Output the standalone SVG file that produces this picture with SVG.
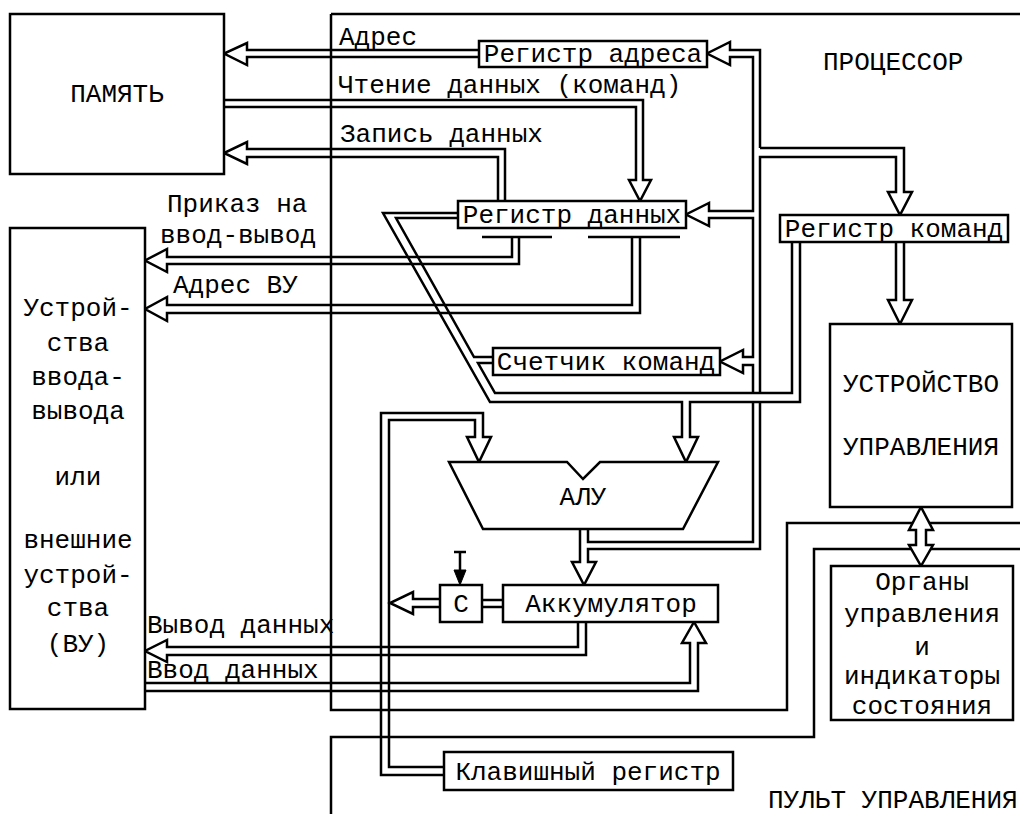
<svg xmlns="http://www.w3.org/2000/svg" width="1020" height="814" viewBox="0 0 1020 814">
<style>
.ln{fill:none;stroke:#000;stroke-width:2.5;stroke-linejoin:miter;stroke-linecap:butt}
.bx{fill:#fff;stroke:#000;stroke-width:2.5}
.wf{fill:#fff;stroke:#000;stroke-width:2.5;stroke-linejoin:miter}
text{font-family:"Liberation Mono","DejaVu Sans Mono",monospace;font-size:26px;fill:#000}
.m{text-anchor:middle}
</style>
<rect width="1020" height="814" fill="#fff"/>
<g id="frames" class="ln">
<path d="M331,14 L1020,14 M331,14 L331,710 L787,710 L787,523 L1020,523"/>
<path d="M331,814 L331,737 L814,737 L814,549 L1020,549"/>
</g>
<g id="connectors" class="ln">
<!-- address bus -->
<path d="M479,50 L247,50 L247,43 L224,53.5 L247,65 L247,57 L479,57"/>
<!-- read bus -->
<path d="M224,100 L643,100 L643,180 L651,180 L640,201 L629,180 L636,180 L636,107 L224,107"/>
<!-- write bus -->
<path d="M505,201 L505,149 L247,149 L247,142 L224,153 L247,164 L247,157 L498,157 L498,201"/>
<!-- main vertical bus inner -->
<path d="M760,148 L760,50 L730,50 L730,42 L707,53.5 L730,65 L730,57 L753,57 L753,211 L709,211 L709,203 L686,214.5 L709,226 L709,218 L753,218 L753,357 L743,357 L743,350 L720,361.5 L743,373 L743,365 L753,365 L753,393"/>
<path d="M753,402 L753,542 L588,542 L588,529"/>
<!-- main vertical bus outer + reg commands -->
<path d="M760,393 L760,157 L896,157 L896,192 L888,192 L900,215 L912,192 L904,192 L904,148 L760,148"/>
<path d="M760,402 L760,549 L588,549 L588,562 L596,562 L584,585 L572,562 L580,562 L580,529"/>
<!-- reg commands to control unit -->
<path d="M896,242 L896,300 L888,300 L900,324 L912,300 L904,300 L904,242"/>
<!-- reg commands / data reg to ALU -->
<path d="M792,242 L792,393 L495,393 L478,363 L493,363"/>
<path d="M493,357 L474,357 L396,218 L458,218"/>
<path d="M800,242 L800,402 L690,402 L690,437 L698,437 L686,462 L674,437 L682,437 L682,402 L490,402 L383,213 L458,213"/>
<!-- order io -->
<path d="M482,237 L552,237 M588,237 L680,237"/>
<path d="M512,237 L512,257 L167,257 L167,249 L145,260.5 L167,272 L167,264 L519,264 L519,237"/>
<path d="M632,237 L632,305 L167,305 L167,297 L145,309 L167,321 L167,313 L640,313 L640,237"/>
<!-- output data -->
<path d="M578,622 L578,647 L167,647 L167,640 L145,651 L167,662 L167,655 L586,655 L586,622"/>
<!-- input data -->
<path d="M145,683 L690,683 L690,643 L682,643 L694,622 L706,643 L698,643 L698,691 L145,691"/>
<!-- keyboard register to ALU -->
<path d="M444,767 L389,767 L389,420 L475,420 L475,437 L467,437 L479,462 L491,437 L483,437 L483,413 L381,413 L381,775 L444,775"/>
<!-- C links -->
<path d="M482,600 L503,600 M482,607 L503,607"/>
<path d="M440,599 L413,599 L413,592 L390,603 L413,614 L413,607 L440,607"/>
<path d="M454,552 L466,552 M460,552 L460,572"/>
<polygon points="454,570 466,570 460,585" fill="#000" stroke="#000" stroke-width="1"/>
<!-- CU <-> panel -->
<polygon class="wf" points="921,507 933,530 926,530 926,545 933,545 921,566 909,545 916,545 916,530 909,530"/>
</g>
<g id="memory"><rect class="bx" x="10" y="14" width="214" height="160"/><text class="m" x="117" y="102">ПАМЯТЬ</text></g>
<g id="io"><rect class="bx" x="10" y="228" width="135" height="481"/>
<text class="m" x="78" y="316">Устрой-</text><text class="m" x="78" y="351">ства</text><text class="m" x="78" y="385">ввода-</text><text class="m" x="78" y="419">вывода</text><text class="m" x="78" y="485">или</text><text class="m" x="78" y="548">внешние</text><text class="m" x="78" y="583">устрой-</text><text class="m" x="78" y="616">ства</text><text class="m" x="78" y="652">(ВУ)</text></g>
<g id="regaddr"><rect class="bx" x="479" y="41" width="228" height="26"/><text class="m" x="593" y="62">Регистр адреса</text></g>
<g id="regdata"><rect class="bx" x="458" y="201" width="228" height="27"/><text class="m" x="572" y="223">Регистр данных</text></g>
<g id="regcmd"><rect class="bx" x="780" y="215" width="228" height="27"/><text class="m" x="894" y="237">Регистр команд</text></g>
<g id="counter"><rect class="bx" x="493" y="348" width="227" height="27"/><text class="m" x="606" y="370">Счетчик команд</text></g>
<g id="cu"><rect class="bx" x="830" y="324" width="182" height="183"/><text class="m" x="921" y="392">УСТРОЙСТВО</text><text class="m" x="921" y="455">УПРАВЛЕНИЯ</text></g>
<g id="alu"><polygon class="wf" points="449,462 567,462 583,479 600,462 718,462 683,529 483,529"/><text class="m" x="583" y="505">АЛУ</text></g>
<g id="c"><rect class="bx" x="440" y="585" width="42" height="37"/><text class="m" x="461" y="612">С</text></g>
<g id="acc"><rect class="bx" x="503" y="585" width="215" height="37"/><text class="m" x="611" y="612">Аккумулятор</text></g>
<g id="panelorg"><rect class="bx" x="831" y="566" width="182" height="154"/>
<text class="m" x="922" y="590">Органы</text><text class="m" x="922" y="622">управления</text><text class="m" x="922" y="655">и</text><text class="m" x="922" y="684">индикаторы</text><text class="m" x="922" y="714">состояния</text></g>
<g id="keyreg"><rect class="bx" x="444" y="752" width="289" height="38"/><text class="m" x="588" y="780">Клавишный регистр</text></g>
<g id="labels">
<text x="339" y="45">Адрес</text>
<text x="338" y="93">Чтение данных (команд)</text>
<text x="340" y="142">Запись данных</text>
<text x="823" y="70">ПРОЦЕССОР</text>
<text x="167" y="212">Приказ на</text>
<text x="160" y="243">ввод-вывод</text>
<text x="173" y="293">Адрес ВУ</text>
<text x="147" y="633">Вывод данных</text>
<text x="147" y="678">Ввод данных</text>
<text x="768" y="808">ПУЛЬТ УПРАВЛЕНИЯ</text>
</g>
</svg>
